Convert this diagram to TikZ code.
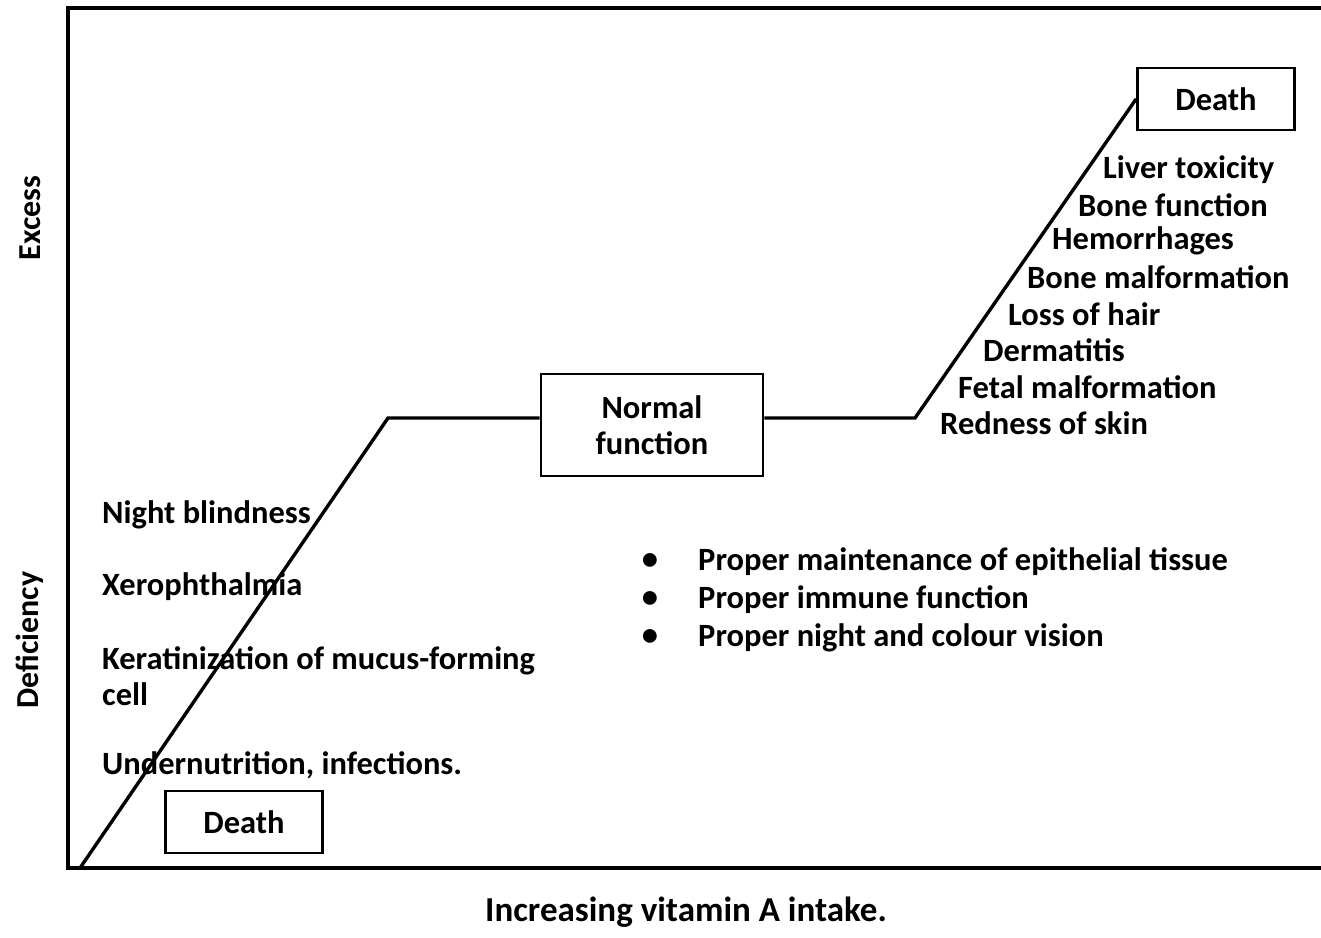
\documentclass[tikz,border=0pt]{standalone}
\usepackage{fontspec}
\setmainfont{Carlito}
\usepackage{tikz}

\begin{document}
\begin{tikzpicture}[x=1pt,y=-1pt,
  every node/.style={font=\fontsize{32.5}{36}\selectfont\bfseries,inner sep=0pt},
  box/.style={draw,line width=2.8pt,align=center},
  item/.style={anchor=west},
  axis/.style={font=\fontsize{32}{34}\selectfont\bfseries,rotate=90}]
\useasboundingbox (0,0) rectangle (1321,937);
\draw[line width=3.4pt] (1321,8)--(68,8)--(68,868)--(1321,868);
\node[box,minimum width=222pt,minimum height=102pt] (normal) at (652,425) {Normal\\function};
\node[box,minimum width=157pt,minimum height=62pt] (deathhi) at (1216,99) {Death};
\node[box,minimum width=157pt,minimum height=62pt] (deathlo) at (244,822) {Death};
\coordinate (origin) at (80,868);
\coordinate (kneelo) at (388,418);
\coordinate (kneehi) at (915,418);
\draw[line width=3.4pt] (origin)--(kneelo)--(normal.west |- kneelo);
\draw[line width=3.4pt] (normal.east |- kneehi)--(kneehi)--(deathhi.west);
\node[item] (nb) at (102,515) {Night blindness};
\node[item] (xe) at (102,587) {Xerophthalmia};
\node[item,align=left] (ke) at (102,676) {Keratinization of mucus-forming\\cell};
\node[item] (un) at (102,765) {Undernutrition, infections.};
\node[item] (li) at (1103,170) {Liver toxicity};
\node[item] (bf) at (1078,205) {Bone function};
\node[item] (he) at (1052,241) {Hemorrhages};
\node[item] (bm) at (1027,277) {Bone malformation};
\node[item] (lo) at (1008,314) {Loss of hair};
\node[item] (de) at (983,350) {Dermatitis};
\node[item] (fe) at (958,387) {Fetal malformation};
\node[item] (re) at (940,423) {Redness of skin};
\node (b1) at (650,562) {\textbullet};
\node (b2) at (650,600) {\textbullet};
\node (b3) at (650,638) {\textbullet};
\node[item] (p1) at (698,562) {Proper maintenance of epithelial tissue};
\node[item] (p2) at (698,600) {Proper immune function};
\node[item] (p3) at (698,638) {Proper night and colour vision};
\node[axis] (excess) at (30,218) {Excess};
\node[axis] (deficiency) at (30,640) {Deficiency};
\node[font=\fontsize{35}{40}\selectfont\bfseries] (xlabel) at (686,912) {Increasing vitamin A intake.};
\end{tikzpicture}
\end{document}
